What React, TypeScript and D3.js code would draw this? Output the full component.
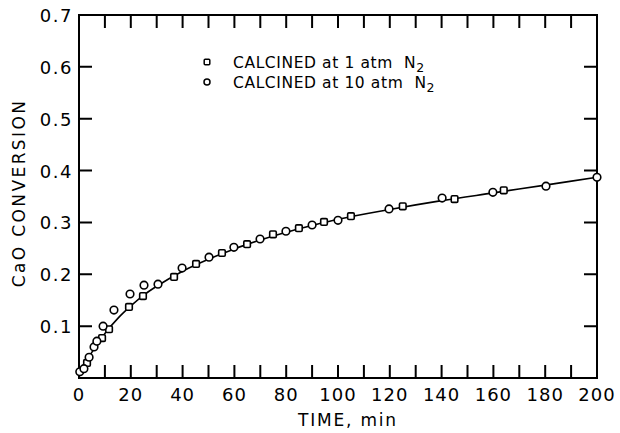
import React from "react";
import * as d3 from "d3";

// Conversion of CaO vs. time (min)
const timeSquares = [3.1, 8.9, 11.6, 19.3, 24.7, 36.7, 45.2, 55.2, 64.9, 74.9, 84.9, 94.6, 105, 125, 145, 164];
const convSquares = [0.029, 0.077, 0.094, 0.137, 0.158, 0.195, 0.22, 0.241, 0.258, 0.277, 0.289, 0.301, 0.312, 0.331, 0.345, 0.362];

const timeCircles = [0.3, 1.9, 3.9, 5.8, 6.9, 9.3, 13.5, 19.7, 25.1, 30.5, 39.8, 50.2, 59.8, 69.9, 79.9, 90, 100, 119.7, 140.2, 159.8, 180.3, 200];
const convCircles = [0.012, 0.018, 0.04, 0.06, 0.071, 0.1, 0.131, 0.162, 0.179, 0.181, 0.212, 0.233, 0.252, 0.268, 0.283, 0.295, 0.304, 0.326, 0.347, 0.358, 0.37, 0.387];

// Smooth fitted curve
const fitTime = [0, 5, 10, 15, 20, 25, 30, 40, 50, 60, 70, 80, 90, 100, 120, 140, 160, 180, 200];
const fitConv = [0.008, 0.05, 0.086, 0.115, 0.139, 0.16, 0.177, 0.206, 0.229, 0.249, 0.266, 0.281, 0.294, 0.306, 0.325, 0.342, 0.357, 0.372, 0.387];

const xTickLabels = [0, 20, 40, 60, 80, 100, 120, 140, 160, 180, 200];
const yTickLabels = [0.1, 0.2, 0.3, 0.4, 0.5, 0.6, 0.7];
const xMinorTicks = [10, 20, 30, 40, 50, 60, 70, 80, 90, 100, 110, 120, 130, 140, 150, 160, 170, 180, 190];
const yMinorTicks = [0.1, 0.2, 0.3, 0.4, 0.5, 0.6];

const legendLabels = ["CALCINED at 1 atm  N", "CALCINED at 10 atm  N"];

const W = 620;
const H = 433;
const M = { left: 79, right: 23, top: 15, bottom: 55 };
const FONT = "'DejaVu Sans', sans-serif";
const TICK = 13;

export default function App() {
  const x = d3.scaleLinear().domain([0, 200]).range([M.left, W - M.right]);
  const y = d3.scaleLinear().domain([0, 0.7]).range([H - M.bottom, M.top]);
  const x0 = x(0), x1 = x(200), y0 = y(0), y1 = y(0.7);

  const line = d3.line<number>()
    .x((_, i) => x(fitTime[i]))
    .y((d) => y(d))
    .curve(d3.curveMonotoneX);

  // frame with inward ticks, traced as one outline path
  const fp = d3.path();
  fp.moveTo(x0, y0);
  xMinorTicks.forEach((t) => {
    fp.lineTo(x(t), y0);
    fp.lineTo(x(t), y0 - TICK);
    fp.lineTo(x(t), y0);
  });
  fp.lineTo(x1, y0);
  yMinorTicks.forEach((v) => {
    fp.lineTo(x1, y(v));
    fp.lineTo(x1 - TICK, y(v));
    fp.lineTo(x1, y(v));
  });
  fp.lineTo(x1, y1);
  [...xMinorTicks].reverse().forEach((t) => {
    fp.lineTo(x(t), y1);
    fp.lineTo(x(t), y1 + TICK);
    fp.lineTo(x(t), y1);
  });
  fp.lineTo(x0, y1);
  [...yMinorTicks].reverse().forEach((v) => {
    fp.lineTo(x0, y(v));
    fp.lineTo(x0 + TICK, y(v));
    fp.lineTo(x0, y(v));
  });
  fp.closePath();

  const legendY = [62, 82];

  return (
    <svg
      width={W}
      height={H}
      style={{ position: "absolute", left: 0, top: 0, background: "#fff" }}
    >
      {/* frame and ticks */}
      <path d={fp.toString()} fill="none" stroke="#000" strokeWidth={2} strokeLinejoin="miter" />

      {/* tick labels */}
      <g fontFamily={FONT} fontSize={18} letterSpacing={1} textAnchor="middle">
        {xTickLabels.map((t) => (
          <text key={t} x={x(t)} y={y0 + 23}>{t}</text>
        ))}
      </g>
      <g fontFamily={FONT} fontSize={18} letterSpacing={1.5} textAnchor="end">
        {yTickLabels.map((v) => (
          <text key={v} x={x0 - 6} y={y(v) + 7}>{v.toFixed(1)}</text>
        ))}
      </g>

      {/* axis titles */}
      <text x={348} y={426} textAnchor="middle" fontFamily={FONT} fontSize={17} letterSpacing={1.8}>
        TIME, min
      </text>
      <text
        transform="translate(25, 193) rotate(-90)"
        textAnchor="middle"
        fontFamily={FONT}
        fontSize={17}
        letterSpacing={2.4}
      >
        CaO CONVERSION
      </text>

      {/* fitted curve */}
      <path d={line(fitConv) ?? ""} fill="none" stroke="#000" strokeWidth={1.6} />

      {/* data markers */}
      <g fill="#fff" stroke="#000" strokeWidth={1.6}>
        {convSquares.map((v, i) => (
          <rect
            key={`s${i}`}
            x={x(timeSquares[i]) - 3.3}
            y={y(v) - 3.3}
            width={6.6}
            height={6.6}
            rx={1.2}
          />
        ))}
        {convCircles.map((v, i) => (
          <circle key={`c${i}`} cx={x(timeCircles[i])} cy={y(v)} r={3.8} />
        ))}
      </g>

      {/* legend */}
      <g fill="#fff" stroke="#000" strokeWidth={1.5}>
        <rect x={207 - 2.8} y={legendY[0] - 2.8} width={5.6} height={5.6} rx={1} />
        <circle cx={207} cy={legendY[1]} r={3} />
      </g>
      <g fontFamily={FONT} fontSize={15.5} letterSpacing={0.6}>
        {legendLabels.map((lab, i) => (
          <text key={i} x={233} y={legendY[i] + 6} style={{ whiteSpace: "pre" }}>
            <tspan>{lab}</tspan>
            <tspan dy={4} fontSize={12.5}>2</tspan>
          </text>
        ))}
      </g>
    </svg>
  );
}
